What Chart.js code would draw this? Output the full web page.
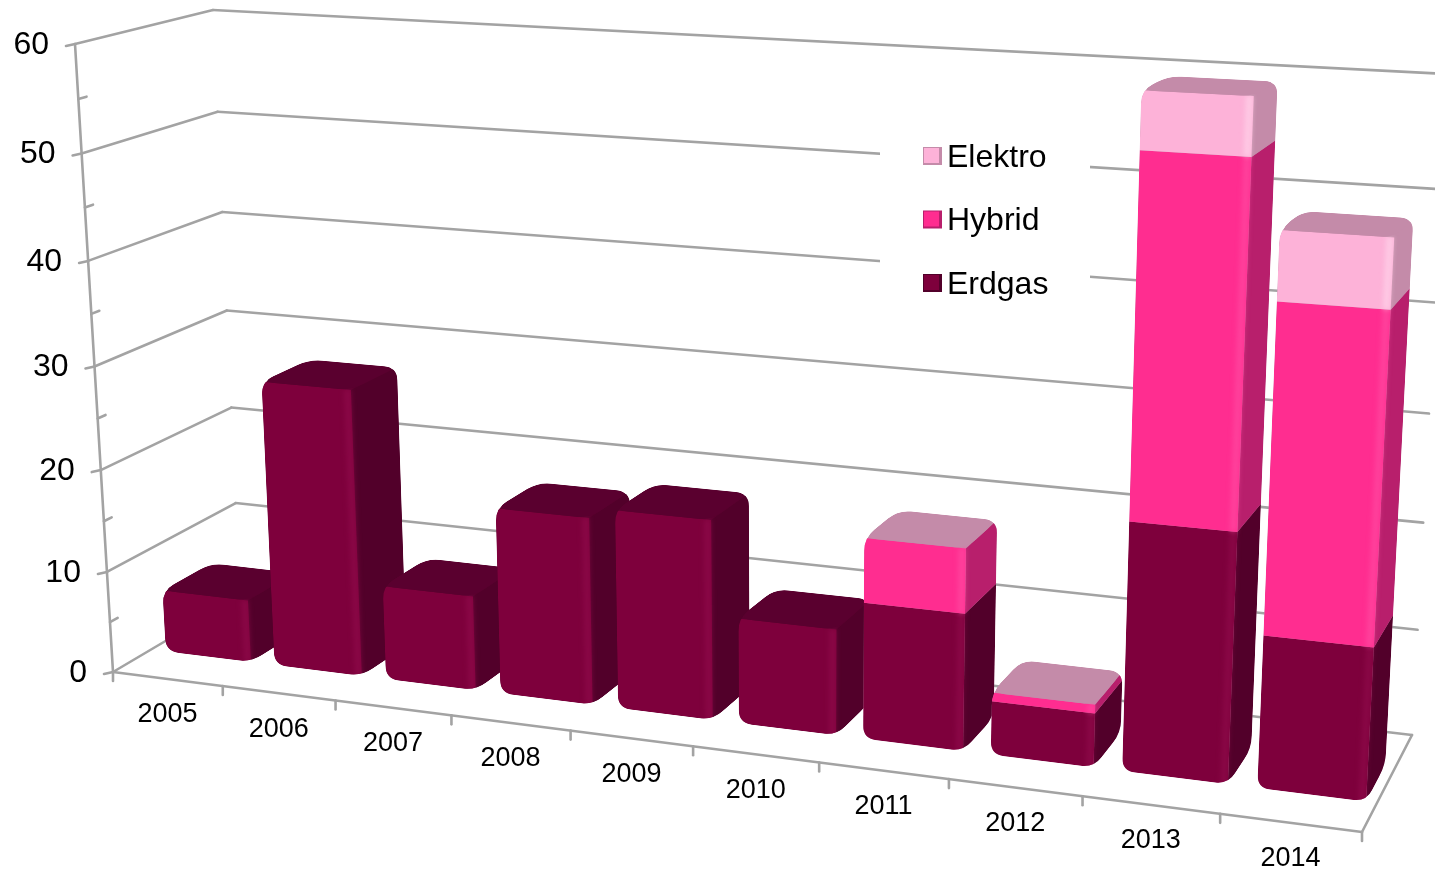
<!DOCTYPE html>
<html>
<head>
<meta charset="utf-8">
<style>
  html, body { margin: 0; padding: 0; background: #fff; overflow: hidden; }
  canvas { display: block; }
</style>
<script src="https://cdn.jsdelivr.net/npm/chart.js@4"></script>
</head>
<body>
<canvas id="myChart" width="1435" height="872"></canvas>
<script>
const categories = ['2005','2006','2007','2008','2009','2010','2011','2012','2013','2014'];
const erdgas  = [6.2, 28, 9.2, 18, 19, 10, 12.8, 5, 22.7, 13.8];
const hybrid  = [null, null, null, null, null, null, 6, 0.8, 32, 29];
const elektro = [null, null, null, null, null, null, 0, 0, 5, 6];

// colours per series: front, side, top, edge highlight
const erdgasColors  = ['#7e003c', '#52002a', '#5a002f', '#930c4e'];
const hybridColors  = ['#ff2d90', '#b81f6c', '#b81f6c', '#ff52a6'];
const elektroColors = ['#fdb2d8', '#c48ba9', '#c48ba9', '#ffdcee'];
const seriesColors = [erdgasColors, hybridColors, elektroColors];

// the 3d box of the plot on the page: [bottom left, bottom right, top right, top left]
const frontPlane = [[113,672],[1362,832],[1398,112],[75,44]];
const backPlane  = [[240,597],[1412,735],[1447,74],[213,10]];
const barFront = 0.3, barBack = 0.68, barShift = 0.003;

function homography(q) {
  const [a, b, c, d] = q;
  const dx1 = b[0]-c[0], dx2 = d[0]-c[0], sx = a[0]-b[0]+c[0]-d[0];
  const dy1 = b[1]-c[1], dy2 = d[1]-c[1], sy = a[1]-b[1]+c[1]-d[1];
  const den = dx1*dy2 - dx2*dy1;
  const g = (sx*dy2 - dx2*sy)/den, h = (dx1*sy - sx*dy1)/den;
  return (u, v) => {
    const w = g*u + h*v + 1;
    return [((b[0]-a[0]+g*b[0])*u + (d[0]-a[0]+h*d[0])*v + a[0])/w,
            ((b[1]-a[1]+g*b[1])*u + (d[1]-a[1]+h*d[1])*v + a[1])/w];
  };
}
const front = homography(frontPlane), back = homography(backPlane);
function project(u, v, z) {
  const f = front(u, v), b = back(u, v);
  return [f[0]+(b[0]-f[0])*z, f[1]+(b[1]-f[1])*z];
}

function poly(ctx, pts) {
  ctx.beginPath();
  pts.forEach((p, i) => i ? ctx.lineTo(p[0], p[1]) : ctx.moveTo(p[0], p[1]));
  ctx.closePath();
}
// rounded corners that also work on the sharp angles of the top faces
function roundPoly(ctx, pts, r) {
  const n = pts.length;
  const toward = (p, q) => {
    const dx = q[0]-p[0], dy = q[1]-p[1], len = Math.hypot(dx, dy);
    const d = Math.min(r, len/2);
    return [p[0]+dx/len*d, p[1]+dy/len*d];
  };
  ctx.beginPath();
  pts.forEach((p, i) => {
    const a = toward(p, pts[(i+n-1)%n]), b = toward(p, pts[(i+1)%n]);
    i ? ctx.lineTo(a[0], a[1]) : ctx.moveTo(a[0], a[1]);
    ctx.quadraticCurveTo(p[0], p[1], b[0], b[1]);
  });
  ctx.closePath();
}
function line(ctx, a, b) {
  ctx.beginPath();
  ctx.moveTo(a[0], a[1]);
  ctx.lineTo(b[0], b[1]);
  ctx.stroke();
}

function drawWalls(chart) {
  const ctx = chart.ctx, y = chart.scales.y, x = chart.scales.x, area = chart.chartArea;
  const vOf = val => (area.bottom - y.getPixelForValue(val)) / area.height;
  ctx.strokeStyle = '#a3a3a3';
  ctx.lineCap = 'round';
  ctx.lineWidth = 2.6;
  y.ticks.forEach(t => {
    const v = vOf(t.value);
    if (t.label === '') {
      const p = project(0, v, 0), q = project(0, v, 0.06);
      line(ctx, p, q);
      return;
    }
    const p = project(0, v, 0);
    line(ctx, [p[0]-9, p[1]+2], p);
    line(ctx, p, project(0, v, 1));
    line(ctx, project(0, v, 1), project(1, v, 1));
  });
  line(ctx, project(0, 0, 0), project(0, 1, 0));
  line(ctx, project(0, 0, 0), project(1, 0, 0));
  line(ctx, project(1, 0, 0), project(1, 0, 1));
  ctx.fillStyle = '#000';
  ctx.font = '32px "Liberation Sans"';
  ctx.textAlign = 'right';
  ctx.textBaseline = 'middle';
  y.ticks.forEach(t => {
    if (t.label === '') return;
    const p = project(0, vOf(t.value), 0);
    ctx.fillText(t.label, p[0]-26, p[1]+1);
  });
  // category ticks and labels on the front edge
  const step = x.getPixelForValue(1) - x.getPixelForValue(0);
  ctx.font = '27px "Liberation Sans"';
  ctx.textAlign = 'center';
  categories.forEach((c, i) => {
    const left = (x.getPixelForValue(i) - step/2 - area.left) / area.width;
    const right = left + step/area.width;
    const a = project(left, 0, 0), b = project(right, 0, 0);
    line(ctx, a, [a[0], a[1]+9]);
    if (i === categories.length-1) line(ctx, b, [b[0], b[1]+9]);
    const m = project((left+right)/2, 0, 0);
    ctx.fillStyle = '#000';
    ctx.fillText(c, m[0], m[1]+36);
  });
}

function drawLegend(chart) {
  const ctx = chart.ctx;
  ctx.fillStyle = '#fff';
  ctx.fillRect(880, 110, 210, 200);
  ctx.font = '32px "Liberation Sans"';
  ctx.textAlign = 'left';
  ctx.textBaseline = 'middle';
  const sets = chart.data.datasets;
  [2, 1, 0].forEach((s, i) => {
    const cy = 156 + i*63.5, c = seriesColors[s];
    ctx.fillStyle = c[1];
    ctx.fillRect(923, cy-9, 19, 18);
    ctx.fillStyle = c[0];
    ctx.fillRect(924, cy-8, 15, 15);
    ctx.fillStyle = '#000';
    ctx.fillText(sets[s].label, 947, cy+2);
  });
}

function drawBars(chart) {
  const ctx = chart.ctx, area = chart.chartArea, sets = chart.data.datasets;
  const vOf = px => (area.bottom - px) / area.height;
  categories.forEach((c, i) => {
    const segs = [];
    sets.forEach((s, d) => {
      if (s.data[i] === null) return;
      const bar = chart.getDatasetMeta(d).data[i];
      segs.push({ d, v0: vOf(bar.base), v1: vOf(bar.y),
        u0: (bar.x - bar.width/2 - area.left) / area.width + barShift,
        u1: (bar.x + bar.width/2 - area.left) / area.width + barShift });
    });
    const { u0, u1 } = segs[0];
    const vb = segs[0].v0, vt = segs[segs.length-1].v1;
    const topCol = seriesColors[segs[segs.length-1].d];
    ctx.save();
    roundPoly(ctx, [project(u0,vb,barFront), project(u1,vb,barFront), project(u1,vb,barBack),
      project(u1,vt,barBack), project(u0,vt,barBack), project(u0,vt,barFront)], 13);
    ctx.clip();
    // base coat so the rounded top corners leave no gap
    ctx.fillStyle = topCol[2];
    ctx.fill();
    segs.forEach(s => {
      const col = seriesColors[s.d];
      ctx.fillStyle = col[1];
      poly(ctx, [project(u1,s.v0,barFront), project(u1,s.v0,barBack), project(u1,s.v1,barBack), project(u1,s.v1,barFront)]);
      ctx.fill();
      ctx.fillStyle = col[0];
      poly(ctx, [project(u0,s.v0,barFront), project(u1,s.v0,barFront), project(u1,s.v1,barFront), project(u0,s.v1,barFront)]);
      ctx.fill();
      // soft highlight on the rounded front edge
      if (s.v1 > s.v0) {
        ctx.save();
        ctx.filter = 'blur(2.5px)';
        ctx.strokeStyle = col[3];
        ctx.lineCap = 'butt';
        ctx.globalAlpha = 0.55;
        ctx.lineWidth = 7;
        line(ctx, project(u1-0.003,s.v0,barFront), project(u1-0.003,s.v1,barFront));
        ctx.restore();
      }
    });
    ctx.fillStyle = topCol[2];
    roundPoly(ctx, [project(u0,vt,barFront), project(u1,vt,barFront), project(u1,vt,barBack), project(u0,vt,barBack)], 13);
    ctx.fill();
    ctx.restore();
  });
}

const perspectiveBars = {
  id: 'perspectiveBars',
  beforeDatasetsDraw(chart) {
    drawWalls(chart);
    drawLegend(chart);
    drawBars(chart);
    return false;
  }
};

new Chart(document.getElementById('myChart'), {
  type: 'bar',
  data: {
    labels: categories,
    datasets: [
      { label: 'Erdgas', data: erdgas, backgroundColor: erdgasColors[0] },
      { label: 'Hybrid', data: hybrid, backgroundColor: hybridColors[0] },
      { label: 'Elektro', data: elektro, backgroundColor: elektroColors[0] }
    ]
  },
  options: {
    responsive: false,
    animation: false,
    categoryPercentage: 1,
    barPercentage: 0.785,
    plugins: { legend: { display: false }, tooltip: { enabled: false } },
    scales: {
      x: { display: false, stacked: true },
      y: {
        display: false, stacked: true, min: 0, max: 60,
        ticks: {
          stepSize: 5,
          callback: v => (v % 10 === 0 ? String(v) : '')
        }
      }
    }
  },
  plugins: [perspectiveBars]
});
</script>
</body>
</html>
